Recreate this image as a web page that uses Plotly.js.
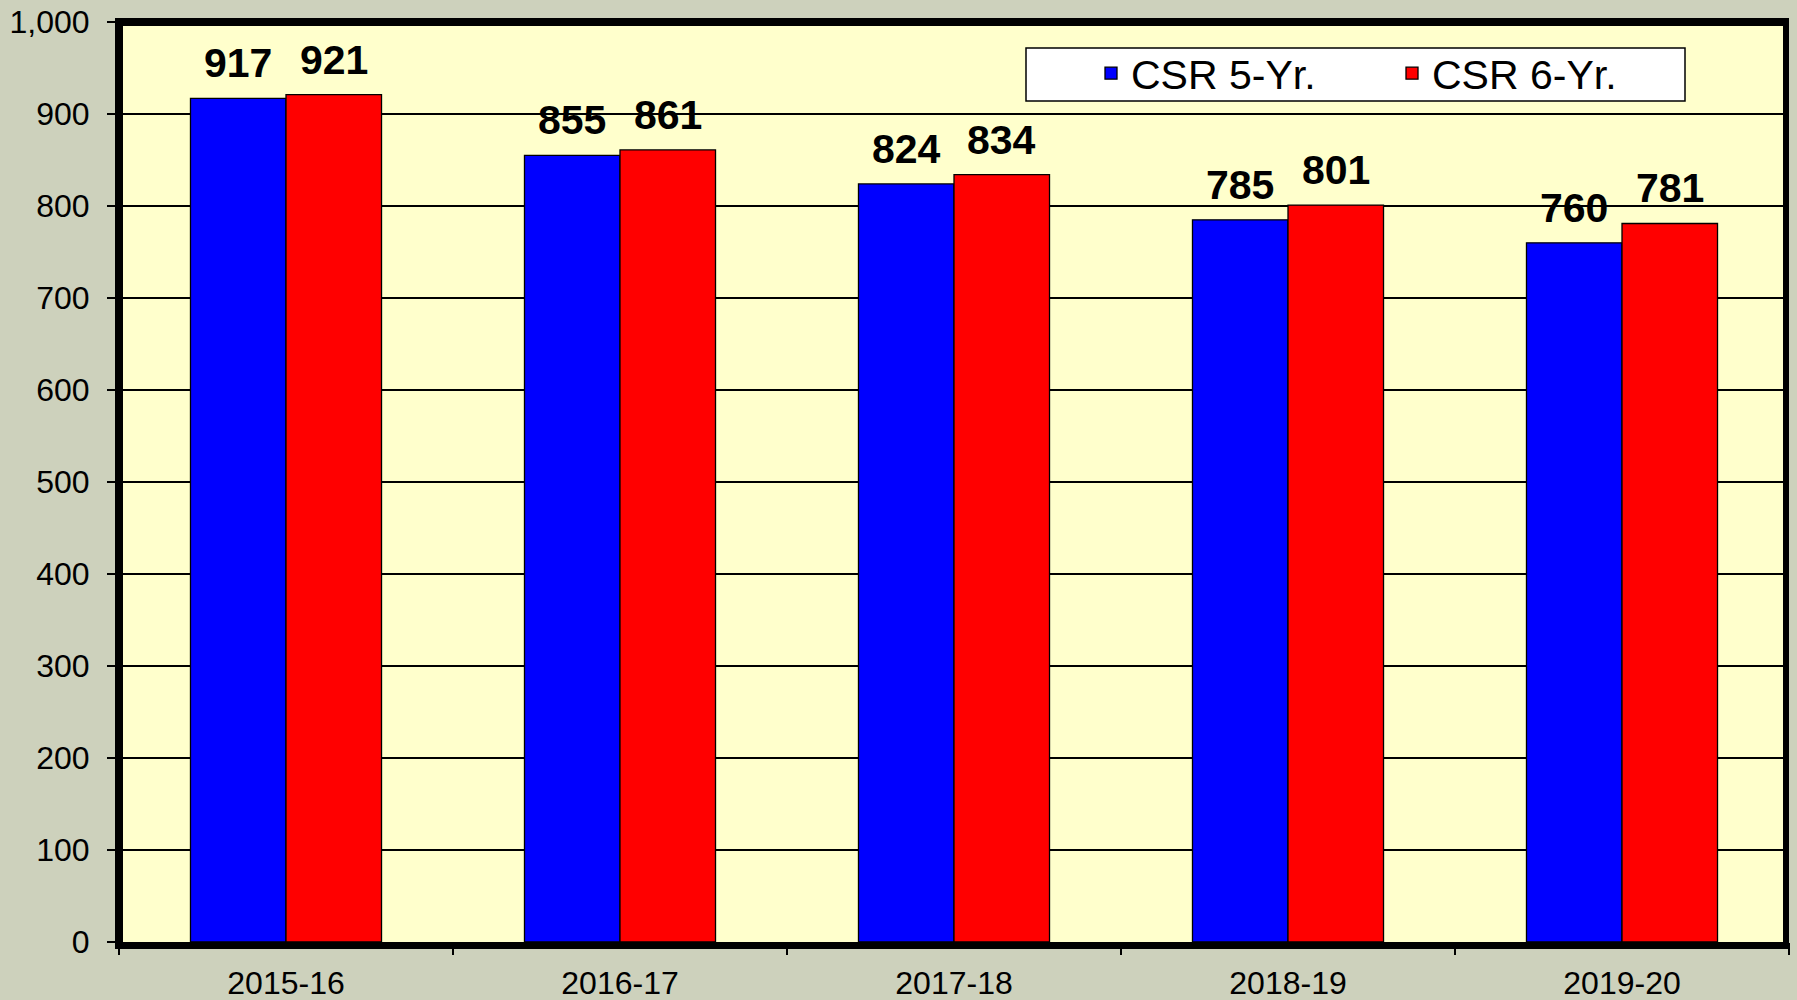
<!DOCTYPE html>
<html>
<head>
<meta charset="utf-8">
<script src="https://cdn.plot.ly/plotly-3.0.1.min.js"></script>
<style>
  html, body { margin: 0; padding: 0; background: #CDD1BC; }
  #chart { width: 1797px; height: 1000px; }
</style>
</head>
<body>
<div id="chart"></div>
<script>
const categories = ['2015-16', '2016-17', '2017-18', '2018-19', '2019-20'];
const csr5 = [917, 855, 824, 785, 760];
const csr6 = [921, 861, 834, 801, 781];
const seriesNames = ['CSR 5-Yr.', 'CSR 6-Yr.'];

const FONT = 'Arial, "Liberation Sans", sans-serif';
const L = 119, R = 8, T = 22, B = 58;
const W = 1797 - L - R, H = 1000 - T - B;
const px = v => (v - L) / W;
const py = v => (1000 - B - v) / H;
const catW = W / categories.length;
const bargap = 0.428;
const barShift = catW * (1 - bargap) / 4;

const traces = [
  {
    type: 'bar', name: seriesNames[0], x: categories, y: csr5,
    marker: { color: '#0000FF', line: { color: '#000000', width: 1.3 } },
    hoverinfo: 'x+y+name'
  },
  {
    type: 'bar', name: seriesNames[1], x: categories, y: csr6,
    marker: { color: '#FF0000', line: { color: '#000000', width: 1.3 } },
    hoverinfo: 'x+y+name'
  }
];

const annotations = [];
[csr5, csr6].forEach((vals, s) => {
  vals.forEach((v, i) => {
    annotations.push({
      x: categories[i], y: v, xref: 'x', yref: 'y',
      text: String(v), showarrow: false,
      xshift: s === 0 ? -barShift : barShift,
      yanchor: 'bottom', yshift: 10,
      font: { family: FONT, size: 41, color: '#000000', weight: 'bold' }
    });
  });
});

const shapes = [
  // legend box
  { type: 'rect', xref: 'paper', yref: 'paper', layer: 'above',
    x0: px(1026), x1: px(1685), y0: py(101), y1: py(48),
    fillcolor: '#FFFFFF', line: { color: '#000000', width: 1.5 } },
  // frame
  { type: 'line', xref: 'paper', yref: 'paper', layer: 'above',
    x0: px(119), x1: px(119), y0: py(949), y1: py(18), line: { color: '#000', width: 8 } },
  { type: 'line', xref: 'paper', yref: 'paper', layer: 'above',
    x0: px(1786), x1: px(1786), y0: py(949), y1: py(18), line: { color: '#000', width: 6 } },
  { type: 'line', xref: 'paper', yref: 'paper', layer: 'above',
    x0: px(115), x1: px(1789), y0: py(22), y1: py(22), line: { color: '#000', width: 8 } },
  { type: 'line', xref: 'paper', yref: 'paper', layer: 'above',
    x0: px(115), x1: px(1789), y0: py(945.5), y1: py(945.5), line: { color: '#000', width: 7 } }
];

const layout = {
  width: 1797, height: 1000,
  margin: { l: L, r: R, t: T, b: B, pad: 0 },
  paper_bgcolor: '#CDD1BC',
  plot_bgcolor: '#FFFFCC',
  barmode: 'group',
  bargap: bargap,
  bargroupgap: 0,
  font: { family: FONT, color: '#000000' },
  showlegend: true,
  legend: {
    orientation: 'h', x: px(1091), xanchor: 'left', y: py(73.5), yanchor: 'middle',
    bgcolor: 'rgba(0,0,0,0)', borderwidth: 0,
    font: { family: FONT, size: 41, color: '#000000' },
    entrywidth: 256, traceorder: 'normal'
  },
  xaxis: {
    type: 'category', showgrid: false, showline: false, zeroline: false,
    ticks: 'outside', tickson: 'boundaries', ticklen: 12, tickwidth: 1.3, tickcolor: '#000',
    ticklabelstandoff: 19,
    tickfont: { family: FONT, size: 32, color: '#000' }
  },
  yaxis: {
    range: [0, 1000], dtick: 100, tick0: 0, tickformat: ',',
    showgrid: true, gridcolor: '#000000', gridwidth: 1.2,
    showline: false, zeroline: false,
    ticks: 'outside', ticklen: 11, tickwidth: 1.3, tickcolor: '#000',
    ticklabelstandoff: 11,
    tickfont: { family: FONT, size: 32, color: '#000' }
  },
  annotations: annotations,
  shapes: shapes
};

Plotly.newPlot('chart', traces, layout, { displayModeBar: false, staticPlot: true });
</script>
</body>
</html>
